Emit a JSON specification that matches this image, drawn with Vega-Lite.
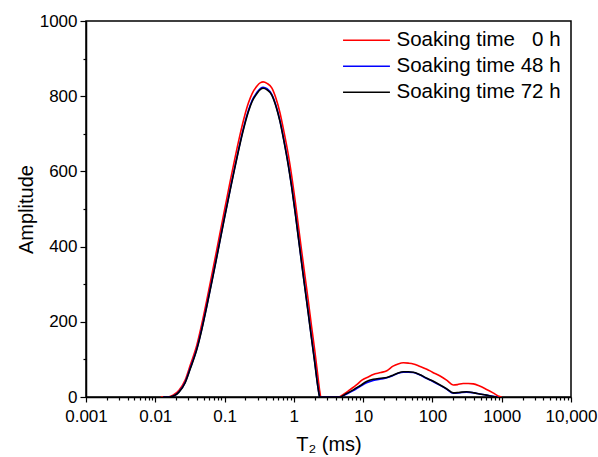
{
  "$schema": "https://vega.github.io/schema/vega-lite/v6.json",
  "width": 485,
  "height": 376,
  "autosize": {"type": "none"},
  "padding": {"left": 86, "top": 21, "right": 27, "bottom": 60},
  "background": "white",
  "config": {
    "font": "Liberation Sans",
    "view": {"stroke": "black", "strokeWidth": 1.5},
    "axis": {"domainColor": "black", "domainWidth": 1.5, "tickColor": "black", "tickWidth": 1.2, "labelColor": "black", "titleColor": "black", "grid": false, "labelFont": "Liberation Sans", "titleFont": "Liberation Sans", "titleFontWeight": "normal", "zindex": 1}
  },
  "data": {
    "values": [
      {"t": 0.012, "amp": 0, "series": "Soaking time \u00a0\u00a00 h"},
      {"t": 0.015, "amp": 0, "series": "Soaking time \u00a0\u00a00 h"},
      {"t": 0.018, "amp": 5, "series": "Soaking time \u00a0\u00a00 h"},
      {"t": 0.022, "amp": 18, "series": "Soaking time \u00a0\u00a00 h"},
      {"t": 0.027, "amp": 45, "series": "Soaking time \u00a0\u00a00 h"},
      {"t": 0.032, "amp": 85, "series": "Soaking time \u00a0\u00a00 h"},
      {"t": 0.04, "amp": 140, "series": "Soaking time \u00a0\u00a00 h"},
      {"t": 0.047, "amp": 195, "series": "Soaking time \u00a0\u00a00 h"},
      {"t": 0.055, "amp": 255, "series": "Soaking time \u00a0\u00a00 h"},
      {"t": 0.065, "amp": 322, "series": "Soaking time \u00a0\u00a00 h"},
      {"t": 0.075, "amp": 380, "series": "Soaking time \u00a0\u00a00 h"},
      {"t": 0.085, "amp": 432, "series": "Soaking time \u00a0\u00a00 h"},
      {"t": 0.1, "amp": 498, "series": "Soaking time \u00a0\u00a00 h"},
      {"t": 0.12, "amp": 572, "series": "Soaking time \u00a0\u00a00 h"},
      {"t": 0.14, "amp": 632, "series": "Soaking time \u00a0\u00a00 h"},
      {"t": 0.166, "amp": 695, "series": "Soaking time \u00a0\u00a00 h"},
      {"t": 0.19, "amp": 740, "series": "Soaking time \u00a0\u00a00 h"},
      {"t": 0.22, "amp": 781, "series": "Soaking time \u00a0\u00a00 h"},
      {"t": 0.25, "amp": 807, "series": "Soaking time \u00a0\u00a00 h"},
      {"t": 0.29, "amp": 826, "series": "Soaking time \u00a0\u00a00 h"},
      {"t": 0.33, "amp": 836, "series": "Soaking time \u00a0\u00a00 h"},
      {"t": 0.36, "amp": 838, "series": "Soaking time \u00a0\u00a00 h"},
      {"t": 0.41, "amp": 834, "series": "Soaking time \u00a0\u00a00 h"},
      {"t": 0.48, "amp": 822, "series": "Soaking time \u00a0\u00a00 h"},
      {"t": 0.55, "amp": 795, "series": "Soaking time \u00a0\u00a00 h"},
      {"t": 0.63, "amp": 756, "series": "Soaking time \u00a0\u00a00 h"},
      {"t": 0.72, "amp": 705, "series": "Soaking time \u00a0\u00a00 h"},
      {"t": 0.83, "amp": 645, "series": "Soaking time \u00a0\u00a00 h"},
      {"t": 0.93, "amp": 588, "series": "Soaking time \u00a0\u00a00 h"},
      {"t": 1.04, "amp": 524, "series": "Soaking time \u00a0\u00a00 h"},
      {"t": 1.15, "amp": 462, "series": "Soaking time \u00a0\u00a00 h"},
      {"t": 1.29, "amp": 391, "series": "Soaking time \u00a0\u00a00 h"},
      {"t": 1.45, "amp": 320, "series": "Soaking time \u00a0\u00a00 h"},
      {"t": 1.61, "amp": 258, "series": "Soaking time \u00a0\u00a00 h"},
      {"t": 1.8, "amp": 188, "series": "Soaking time \u00a0\u00a00 h"},
      {"t": 2.0, "amp": 125, "series": "Soaking time \u00a0\u00a00 h"},
      {"t": 2.2, "amp": 62, "series": "Soaking time \u00a0\u00a00 h"},
      {"t": 2.38, "amp": 12, "series": "Soaking time \u00a0\u00a00 h"},
      {"t": 2.45, "amp": 0, "series": "Soaking time \u00a0\u00a00 h"},
      {"t": 4.4, "amp": 0, "series": "Soaking time \u00a0\u00a00 h"},
      {"t": 5.3, "amp": 8, "series": "Soaking time \u00a0\u00a00 h"},
      {"t": 6.4, "amp": 19, "series": "Soaking time \u00a0\u00a00 h"},
      {"t": 8, "amp": 32, "series": "Soaking time \u00a0\u00a00 h"},
      {"t": 9.6, "amp": 45, "series": "Soaking time \u00a0\u00a00 h"},
      {"t": 12, "amp": 54, "series": "Soaking time \u00a0\u00a00 h"},
      {"t": 14, "amp": 60, "series": "Soaking time \u00a0\u00a00 h"},
      {"t": 18, "amp": 65, "series": "Soaking time \u00a0\u00a00 h"},
      {"t": 22, "amp": 70, "series": "Soaking time \u00a0\u00a00 h"},
      {"t": 27, "amp": 82, "series": "Soaking time \u00a0\u00a00 h"},
      {"t": 32, "amp": 88, "series": "Soaking time \u00a0\u00a00 h"},
      {"t": 38, "amp": 91, "series": "Soaking time \u00a0\u00a00 h"},
      {"t": 45, "amp": 90, "series": "Soaking time \u00a0\u00a00 h"},
      {"t": 53, "amp": 88, "series": "Soaking time \u00a0\u00a00 h"},
      {"t": 65, "amp": 82, "series": "Soaking time \u00a0\u00a00 h"},
      {"t": 83, "amp": 74, "series": "Soaking time \u00a0\u00a00 h"},
      {"t": 100, "amp": 66, "series": "Soaking time \u00a0\u00a00 h"},
      {"t": 129, "amp": 56, "series": "Soaking time \u00a0\u00a00 h"},
      {"t": 160, "amp": 45, "series": "Soaking time \u00a0\u00a00 h"},
      {"t": 200, "amp": 32, "series": "Soaking time \u00a0\u00a00 h"},
      {"t": 230, "amp": 33, "series": "Soaking time \u00a0\u00a00 h"},
      {"t": 277, "amp": 36, "series": "Soaking time \u00a0\u00a00 h"},
      {"t": 330, "amp": 36, "series": "Soaking time \u00a0\u00a00 h"},
      {"t": 390, "amp": 35, "series": "Soaking time \u00a0\u00a00 h"},
      {"t": 480, "amp": 29, "series": "Soaking time \u00a0\u00a00 h"},
      {"t": 605, "amp": 20, "series": "Soaking time \u00a0\u00a00 h"},
      {"t": 750, "amp": 11, "series": "Soaking time \u00a0\u00a00 h"},
      {"t": 940, "amp": 1, "series": "Soaking time \u00a0\u00a00 h"},
      {"t": 1000, "amp": 0, "series": "Soaking time \u00a0\u00a00 h"},

      {"t": 0.013, "amp": 0, "series": "Soaking time 48 h"},
      {"t": 0.016, "amp": 0, "series": "Soaking time 48 h"},
      {"t": 0.019, "amp": 4, "series": "Soaking time 48 h"},
      {"t": 0.022, "amp": 14, "series": "Soaking time 48 h"},
      {"t": 0.027, "amp": 39, "series": "Soaking time 48 h"},
      {"t": 0.032, "amp": 77, "series": "Soaking time 48 h"},
      {"t": 0.04, "amp": 130, "series": "Soaking time 48 h"},
      {"t": 0.047, "amp": 182, "series": "Soaking time 48 h"},
      {"t": 0.055, "amp": 240, "series": "Soaking time 48 h"},
      {"t": 0.065, "amp": 305, "series": "Soaking time 48 h"},
      {"t": 0.075, "amp": 362, "series": "Soaking time 48 h"},
      {"t": 0.085, "amp": 413, "series": "Soaking time 48 h"},
      {"t": 0.1, "amp": 479, "series": "Soaking time 48 h"},
      {"t": 0.12, "amp": 551, "series": "Soaking time 48 h"},
      {"t": 0.14, "amp": 610, "series": "Soaking time 48 h"},
      {"t": 0.166, "amp": 673, "series": "Soaking time 48 h"},
      {"t": 0.19, "amp": 719, "series": "Soaking time 48 h"},
      {"t": 0.22, "amp": 761, "series": "Soaking time 48 h"},
      {"t": 0.25, "amp": 789, "series": "Soaking time 48 h"},
      {"t": 0.29, "amp": 809, "series": "Soaking time 48 h"},
      {"t": 0.33, "amp": 821, "series": "Soaking time 48 h"},
      {"t": 0.36, "amp": 824, "series": "Soaking time 48 h"},
      {"t": 0.41, "amp": 820, "series": "Soaking time 48 h"},
      {"t": 0.48, "amp": 805, "series": "Soaking time 48 h"},
      {"t": 0.55, "amp": 776, "series": "Soaking time 48 h"},
      {"t": 0.63, "amp": 735, "series": "Soaking time 48 h"},
      {"t": 0.72, "amp": 682, "series": "Soaking time 48 h"},
      {"t": 0.83, "amp": 619, "series": "Soaking time 48 h"},
      {"t": 0.93, "amp": 560, "series": "Soaking time 48 h"},
      {"t": 1.04, "amp": 495, "series": "Soaking time 48 h"},
      {"t": 1.15, "amp": 432, "series": "Soaking time 48 h"},
      {"t": 1.29, "amp": 360, "series": "Soaking time 48 h"},
      {"t": 1.45, "amp": 289, "series": "Soaking time 48 h"},
      {"t": 1.61, "amp": 226, "series": "Soaking time 48 h"},
      {"t": 1.8, "amp": 157, "series": "Soaking time 48 h"},
      {"t": 2.0, "amp": 94, "series": "Soaking time 48 h"},
      {"t": 2.2, "amp": 33, "series": "Soaking time 48 h"},
      {"t": 2.3, "amp": 10, "series": "Soaking time 48 h"},
      {"t": 2.36, "amp": 0, "series": "Soaking time 48 h"},
      {"t": 4.7, "amp": 0, "series": "Soaking time 48 h"},
      {"t": 5.5, "amp": 6, "series": "Soaking time 48 h"},
      {"t": 7.2, "amp": 17, "series": "Soaking time 48 h"},
      {"t": 9, "amp": 28, "series": "Soaking time 48 h"},
      {"t": 11.2, "amp": 38, "series": "Soaking time 48 h"},
      {"t": 14, "amp": 44, "series": "Soaking time 48 h"},
      {"t": 18, "amp": 48, "series": "Soaking time 48 h"},
      {"t": 22, "amp": 51, "series": "Soaking time 48 h"},
      {"t": 27, "amp": 57, "series": "Soaking time 48 h"},
      {"t": 32, "amp": 63, "series": "Soaking time 48 h"},
      {"t": 38, "amp": 66, "series": "Soaking time 48 h"},
      {"t": 45, "amp": 66, "series": "Soaking time 48 h"},
      {"t": 53, "amp": 65, "series": "Soaking time 48 h"},
      {"t": 65, "amp": 59, "series": "Soaking time 48 h"},
      {"t": 83, "amp": 49, "series": "Soaking time 48 h"},
      {"t": 100, "amp": 42, "series": "Soaking time 48 h"},
      {"t": 129, "amp": 31, "series": "Soaking time 48 h"},
      {"t": 160, "amp": 21, "series": "Soaking time 48 h"},
      {"t": 200, "amp": 10, "series": "Soaking time 48 h"},
      {"t": 240, "amp": 11, "series": "Soaking time 48 h"},
      {"t": 310, "amp": 13, "series": "Soaking time 48 h"},
      {"t": 400, "amp": 11, "series": "Soaking time 48 h"},
      {"t": 480, "amp": 8, "series": "Soaking time 48 h"},
      {"t": 600, "amp": 5, "series": "Soaking time 48 h"},
      {"t": 750, "amp": 2, "series": "Soaking time 48 h"},
      {"t": 870, "amp": 0, "series": "Soaking time 48 h"},

      {"t": 0.013, "amp": 0, "series": "Soaking time 72 h"},
      {"t": 0.016, "amp": 0, "series": "Soaking time 72 h"},
      {"t": 0.019, "amp": 4, "series": "Soaking time 72 h"},
      {"t": 0.022, "amp": 13, "series": "Soaking time 72 h"},
      {"t": 0.027, "amp": 38, "series": "Soaking time 72 h"},
      {"t": 0.032, "amp": 75, "series": "Soaking time 72 h"},
      {"t": 0.04, "amp": 128, "series": "Soaking time 72 h"},
      {"t": 0.047, "amp": 180, "series": "Soaking time 72 h"},
      {"t": 0.055, "amp": 238, "series": "Soaking time 72 h"},
      {"t": 0.065, "amp": 303, "series": "Soaking time 72 h"},
      {"t": 0.075, "amp": 360, "series": "Soaking time 72 h"},
      {"t": 0.085, "amp": 411, "series": "Soaking time 72 h"},
      {"t": 0.1, "amp": 477, "series": "Soaking time 72 h"},
      {"t": 0.12, "amp": 549, "series": "Soaking time 72 h"},
      {"t": 0.14, "amp": 608, "series": "Soaking time 72 h"},
      {"t": 0.166, "amp": 671, "series": "Soaking time 72 h"},
      {"t": 0.19, "amp": 716, "series": "Soaking time 72 h"},
      {"t": 0.22, "amp": 758, "series": "Soaking time 72 h"},
      {"t": 0.25, "amp": 786, "series": "Soaking time 72 h"},
      {"t": 0.29, "amp": 806, "series": "Soaking time 72 h"},
      {"t": 0.33, "amp": 818, "series": "Soaking time 72 h"},
      {"t": 0.36, "amp": 821, "series": "Soaking time 72 h"},
      {"t": 0.41, "amp": 817, "series": "Soaking time 72 h"},
      {"t": 0.48, "amp": 803, "series": "Soaking time 72 h"},
      {"t": 0.55, "amp": 774, "series": "Soaking time 72 h"},
      {"t": 0.63, "amp": 733, "series": "Soaking time 72 h"},
      {"t": 0.72, "amp": 680, "series": "Soaking time 72 h"},
      {"t": 0.83, "amp": 617, "series": "Soaking time 72 h"},
      {"t": 0.93, "amp": 558, "series": "Soaking time 72 h"},
      {"t": 1.04, "amp": 493, "series": "Soaking time 72 h"},
      {"t": 1.15, "amp": 430, "series": "Soaking time 72 h"},
      {"t": 1.29, "amp": 358, "series": "Soaking time 72 h"},
      {"t": 1.45, "amp": 287, "series": "Soaking time 72 h"},
      {"t": 1.61, "amp": 224, "series": "Soaking time 72 h"},
      {"t": 1.8, "amp": 155, "series": "Soaking time 72 h"},
      {"t": 2.0, "amp": 92, "series": "Soaking time 72 h"},
      {"t": 2.2, "amp": 32, "series": "Soaking time 72 h"},
      {"t": 2.3, "amp": 9, "series": "Soaking time 72 h"},
      {"t": 2.36, "amp": 0, "series": "Soaking time 72 h"},
      {"t": 4.7, "amp": 0, "series": "Soaking time 72 h"},
      {"t": 5.5, "amp": 7, "series": "Soaking time 72 h"},
      {"t": 7.2, "amp": 19, "series": "Soaking time 72 h"},
      {"t": 9, "amp": 30, "series": "Soaking time 72 h"},
      {"t": 11.2, "amp": 41, "series": "Soaking time 72 h"},
      {"t": 14, "amp": 47, "series": "Soaking time 72 h"},
      {"t": 18, "amp": 50, "series": "Soaking time 72 h"},
      {"t": 22, "amp": 52, "series": "Soaking time 72 h"},
      {"t": 27, "amp": 58, "series": "Soaking time 72 h"},
      {"t": 32, "amp": 64, "series": "Soaking time 72 h"},
      {"t": 38, "amp": 67, "series": "Soaking time 72 h"},
      {"t": 45, "amp": 67, "series": "Soaking time 72 h"},
      {"t": 53, "amp": 66, "series": "Soaking time 72 h"},
      {"t": 65, "amp": 60, "series": "Soaking time 72 h"},
      {"t": 83, "amp": 50, "series": "Soaking time 72 h"},
      {"t": 100, "amp": 43, "series": "Soaking time 72 h"},
      {"t": 129, "amp": 32, "series": "Soaking time 72 h"},
      {"t": 160, "amp": 22, "series": "Soaking time 72 h"},
      {"t": 200, "amp": 11, "series": "Soaking time 72 h"},
      {"t": 240, "amp": 12, "series": "Soaking time 72 h"},
      {"t": 310, "amp": 14, "series": "Soaking time 72 h"},
      {"t": 400, "amp": 11, "series": "Soaking time 72 h"},
      {"t": 480, "amp": 8, "series": "Soaking time 72 h"},
      {"t": 600, "amp": 5, "series": "Soaking time 72 h"},
      {"t": 750, "amp": 1, "series": "Soaking time 72 h"},
      {"t": 850, "amp": 0, "series": "Soaking time 72 h"}
    ]
  },
  "mark": {"type": "line", "strokeWidth": 1.6, "interpolate": "monotone", "clip": true},
  "encoding": {
    "x": {
      "field": "t",
      "type": "quantitative",
      "scale": {"type": "log", "domain": [0.001, 10000], "nice": false},
      "axis": {
        "title": "T\u2082 (ms)",
        "titleFontSize": 20,
        "titlePadding": 10,
        "labelFontSize": 17,
        "labelPadding": 6,
        "labelOverlap": false,
        "labelFlush": false,
        "values": [0.001,0.002,0.003,0.004,0.005,0.006,0.007,0.008,0.009,0.01,0.02,0.03,0.04,0.05,0.06,0.07,0.08,0.09,0.1,0.2,0.3,0.4,0.5,0.6,0.7,0.8,0.9,1,2,3,4,5,6,7,8,9,10,20,30,40,50,60,70,80,90,100,200,300,400,500,600,700,800,900,1000,2000,3000,4000,5000,6000,7000,8000,9000,10000],
        "labelExpr": "datum.value == 10000 ? '10,000' : (indexof([0.001,0.01,0.1,1,10,100,1000], datum.value) >= 0 ? format(datum.value, '') : '')",
        "tickSize": {"condition": {"test": "indexof([0.001,0.01,0.1,1,10,100,1000,10000], datum.value) >= 0", "value": 5}, "value": 3}
      }
    },
    "y": {
      "field": "amp",
      "type": "quantitative",
      "scale": {"domain": [0, 1000], "nice": false},
      "axis": {
        "title": "Amplitude",
        "titleFontSize": 20,
        "titlePadding": 3,
        "labelFontSize": 17,
        "labelPadding": 3,
        "format": "d",
        "values": [0,100,200,300,400,500,600,700,800,900,1000],
        "labelExpr": "datum.value % 200 == 0 ? datum.label : ''",
        "labelOverlap": false,
        "tickSize": {"condition": {"test": "datum.value % 200 == 0", "value": 6}, "value": 3}
      }
    },
    "color": {
      "field": "series",
      "type": "nominal",
      "sort": null,
      "scale": {"domain": ["Soaking time \u00a0\u00a00 h", "Soaking time 48 h", "Soaking time 72 h"], "range": ["#ff0000", "#0000ff", "#000000"]},
      "legend": {
        "title": null,
        "orient": "none",
        "legendX": 289,
        "legendY": 9,
        "padding": 0,
        "symbolType": "M-9,0H1",
        "symbolSize": 88,
        "symbolStrokeWidth": 1.5,
        "labelFontSize": 20.5,
        "labelFont": "Liberation Sans",
        "labelColor": "black",
        "labelOffset": 1,
        "rowPadding": 5,
        "labelLimit": 300
      }
    }
  }
}
